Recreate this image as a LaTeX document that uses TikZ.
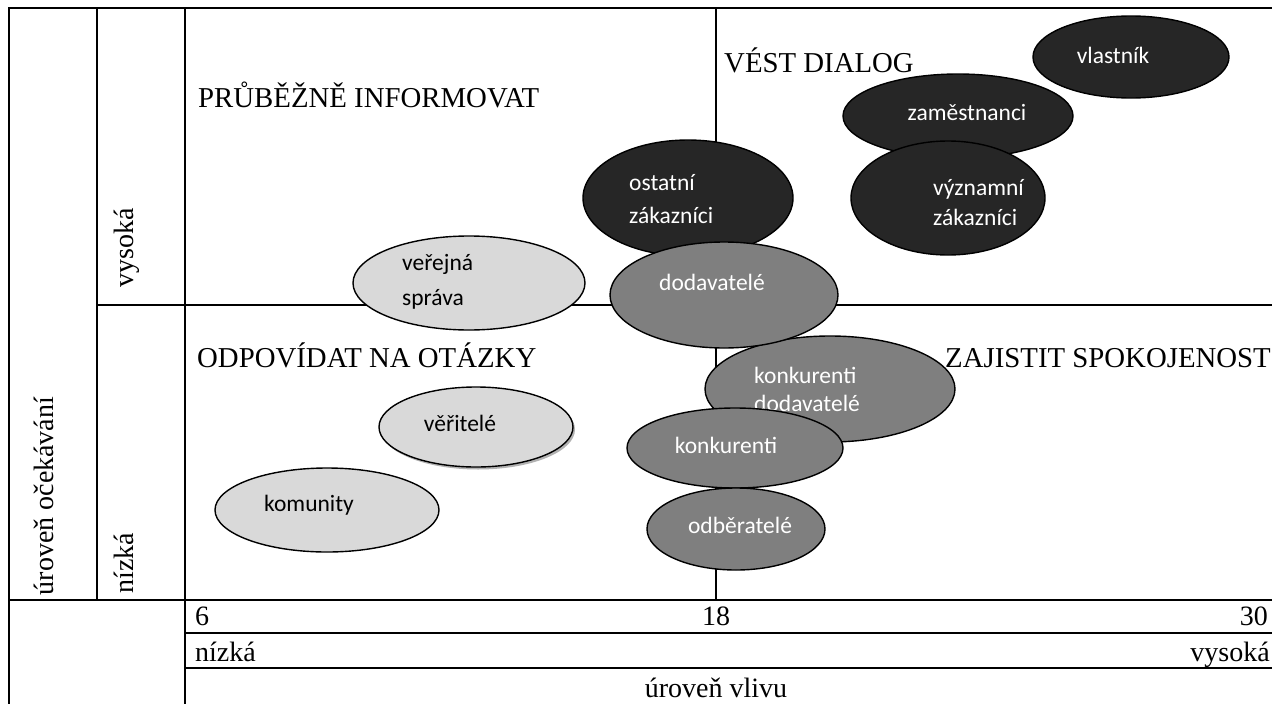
\documentclass[tikz,border=0pt]{standalone}
\usepackage{fontspec}
\setmainfont{Liberation Serif}
\newfontfamily\ellfont{Carlito}
\usetikzlibrary{shapes.geometric,shadows}
\definecolor{darkfill}{HTML}{262626}
\definecolor{midfill}{HTML}{7F7F7F}
\definecolor{lightfill}{HTML}{D9D9D9}
\begin{document}
\begin{tikzpicture}[x=1pt,y=-1pt,
  grid/.style={line width=1.8pt, draw=black, line cap=rect},
  stake/.style={ellipse, draw=black, line width=1.4pt, inner sep=0pt},
  darkstake/.style={stake, fill=darkfill},
  midstake/.style={stake, fill=midfill},
  lightstake/.style={stake, fill=lightfill},
  wlabel/.style={font=\ellfont\fontsize{23.5}{31}\selectfont, text=white, inner sep=0pt, align=left},
  blabel/.style={wlabel, text=black},
  quad/.style={font=\fontsize{28.8}{34}\selectfont, inner sep=0pt, anchor=base west},
  axis/.style={font=\fontsize{28}{34}\selectfont, inner sep=0pt}]
\useasboundingbox (0,0) rectangle (1272,704);
\fill[white] (0,0) rectangle (1272,704);

% table grid
\draw[grid] (9,8) -- (1272,8);
\draw[grid] (9,8) -- (9,704);
\draw[grid] (97,8) -- (97,600);
\draw[grid] (185,8) -- (185,704);
\draw[grid] (97,305) -- (1272,305);
\draw[grid] (716,8) -- (716,600);
\draw[grid] (9,600) -- (1272,600);
\draw[grid] (185,633) -- (1272,633);
\draw[grid] (185,668) -- (1272,668);

% quadrant titles
\node[quad] (q1) at (198,107) {PRŮBĚŽNĚ INFORMOVAT};
\node[quad] (q2) at (724,72) {VÉST DIALOG};
\node[quad] (q3) at (197,367) {ODPOVÍDAT NA OTÁZKY};

% vertical axis labels
\node[axis, rotate=90, anchor=base] (yl) at (53,496) {úroveň očekávání};
\node[axis, rotate=90, anchor=base] (yhi) at (133,248) {vysoká};
\node[axis, rotate=90, anchor=base] (ylo) at (133,563) {nízká};

% horizontal axis labels
\node[axis, anchor=base west] (x6) at (195,625) {6};
\node[axis, anchor=base] (x18) at (716,625) {18};
\node[axis, anchor=base east] (x30) at (1268,625) {30};
\node[axis, anchor=base west] (xlo) at (195,661) {nízká};
\node[axis, anchor=base east] (xhi) at (1270,661) {vysoká};
\node[axis, anchor=base] (xl) at (716,697) {úroveň vlivu};

% high influence, high expectations
\node[darkstake, minimum width=196, minimum height=82] (vl) at (1131,57) {};
\node[wlabel] (vl-t) at (1113,55) {vlastník};
\node[darkstake, minimum width=230, minimum height=84] (za) at (958,116) {};
\node[wlabel] (za-t) at (967,113) {zaměstnanci};
\node[darkstake, minimum width=194, minimum height=114] (vz) at (948,198) {};
\node[wlabel, anchor=west] (vz-t) at (933,203) {významní\\[-1pt]zákazníci};

% around the centre line
\node[darkstake, minimum width=210, minimum height=116] (oz) at (688,198) {};
\node[wlabel, anchor=west] (oz-t) at (629,199) {ostatní\\[2pt]zákazníci};
\node[midstake, minimum width=250, minimum height=106] (kd) at (830,389) {};
\node[quad] (q4) at (945,367) {ZAJISTIT SPOKOJENOST};
\node[wlabel, anchor=west] (kd-t) at (754,389) {konkurenti\\[-3pt]dodavatelé};
\node[midstake, minimum width=228, minimum height=106] (do) at (724,295) {};
\node[wlabel] (do-t) at (712,282) {dodavatelé};
\node[midstake, minimum width=216, minimum height=80] (ko) at (735,448) {};
\node[wlabel] (ko-t) at (726,445) {konkurenti};
\node[midstake, minimum width=178, minimum height=82] (ob) at (736,529) {};
\node[wlabel] (ob-t) at (740,525) {odběratelé};

% low influence
\node[lightstake, minimum width=232, minimum height=94] (vs) at (469,283) {};
\node[blabel, anchor=west] (vs-t) at (402,282) {veřejná\\[4pt]správa};
\node[lightstake, minimum width=194, minimum height=80,
      drop shadow={shadow xshift=2pt, shadow yshift=-2.5pt, fill=black!30, opacity=1}] (ve) at (476,427) {};
\node[blabel] (ve-t) at (460,423) {věřitelé};
\node[lightstake, minimum width=224, minimum height=84] (km) at (327,510) {};
\node[blabel] (km-t) at (309,505) {komunity};
\end{tikzpicture}
\end{document}
